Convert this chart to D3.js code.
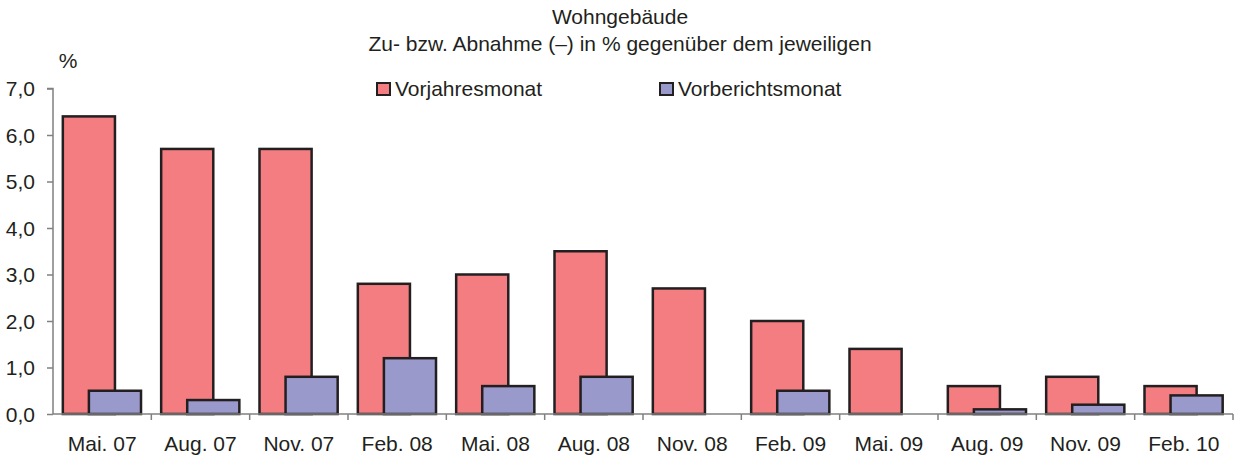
<!DOCTYPE html>
<html><head><meta charset="utf-8">
<script src="https://cdn.jsdelivr.net/npm/d3@7"></script>
<style>body{margin:0;background:#fff;} text{font-family:"Liberation Sans",Arial,sans-serif;fill:#231f20;}</style>
</head><body><svg id="c" width="1240" height="461"></svg>
<script>
const categories = ["Mai. 07","Aug. 07","Nov. 07","Feb. 08","Mai. 08","Aug. 08","Nov. 08","Feb. 09","Mai. 09","Aug. 09","Nov. 09","Feb. 10"];
const vorjahresmonat = [6.4,5.7,5.7,2.8,3.0,3.5,2.7,2.0,1.4,0.6,0.8,0.6];
const vorberichtsmonat = [0.5,0.3,0.8,1.2,0.6,0.8,0,0.5,0,0.1,0.2,0.4];
const yTicks = [0,1,2,3,4,5,6,7];
const seriesNames = ["Vorjahresmonat","Vorberichtsmonat"];
const colors = ["#F37D80","#9999CC"];

const svg = d3.select("#c");
const L = 53, R = 1233, T = 88.5, B = 414;
const x = d3.scaleBand().domain(categories).range([L,R]).padding(0);
const y = d3.scaleLinear().domain([0,7]).range([B,T]);
const bw = x.bandwidth();
const barW = bw*0.53, off = bw*0.10;
const fs = "21px";

// titles
svg.append("text").attr("x",620).attr("y",24).attr("text-anchor","middle").style("font-size",fs).text("Wohngebäude");
svg.append("text").attr("x",620).attr("y",51).attr("text-anchor","middle").style("font-size",fs).text("Zu- bzw. Abnahme (–) in % gegenüber dem jeweiligen");
svg.append("text").attr("x",68).attr("y",68).attr("text-anchor","middle").style("font-size",fs).text("%");

// legend
const leg = [{x:377,tx:395},{x:660,tx:678}];
leg.forEach((l,i)=>{
  svg.append("rect").attr("x",l.x).attr("y",83).attr("width",13).attr("height",12)
    .attr("fill",colors[i]).attr("stroke","#231f20").attr("stroke-width",2);
  svg.append("text").attr("x",l.tx).attr("y",96).style("font-size",fs).text(seriesNames[i]);
});

// bars
const g = svg.append("g");
[vorjahresmonat, vorberichtsmonat].forEach((vals,si)=>{
  g.selectAll(null).data(vals.map((v,i)=>({v,c:categories[i]})).filter(d=>d.v>0)).enter().append("rect")
    .attr("x",d=>x(d.c)+off+si*barW/2)
    .attr("y",d=>y(d.v))
    .attr("width",barW)
    .attr("height",d=>B-y(d.v))
    .attr("fill",colors[si]).attr("stroke","#231f20").attr("stroke-width",2.5);
});

// y axis
const ya = svg.append("g").attr("transform",`translate(${L},0)`)
  .call(d3.axisLeft(y).tickValues(yTicks).tickSize(6).tickPadding(12).tickFormat(d=>d3.format(".1f")(d).replace(".",",")));
ya.select(".domain").attr("stroke","#808080").attr("stroke-width",1.5).attr("d",`M-6,${T}H0V${B}`);
ya.selectAll(".tick line").attr("stroke","#808080").attr("stroke-width",1.5);
ya.selectAll("text").style("font-size",fs).attr("fill","#231f20").attr("dy","0.35em");

// x axis
const xa = svg.append("g").attr("transform",`translate(0,${B})`)
  .call(d3.axisBottom(x).tickSize(0).tickPadding(22));
xa.select(".domain").attr("stroke","#808080").attr("stroke-width",1.5).attr("d",`M${L},0H${R}`);
xa.selectAll("text").style("font-size",fs).attr("fill","#231f20");
xa.selectAll(null).data(categories).enter().append("line")
  .attr("x1",d=>x(d)+bw).attr("x2",d=>x(d)+bw).attr("y1",0).attr("y2",6)
  .attr("stroke","#808080").attr("stroke-width",1.5);
</script></body></html>
